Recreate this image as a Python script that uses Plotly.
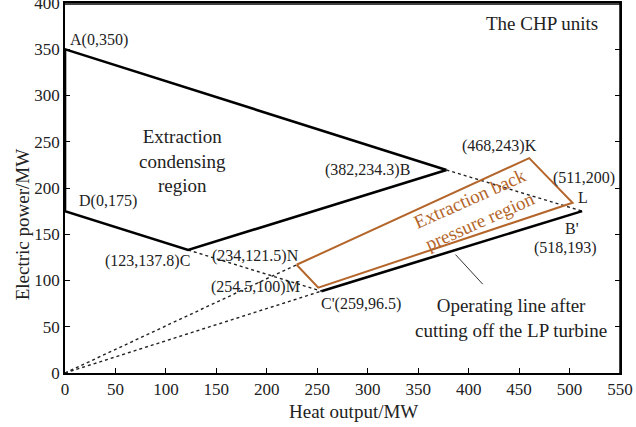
import plotly.graph_objects as go

# Operating region vertices (as drawn)
region_x = [378, 0, 0, 122, 378]          # B, A, D, C, B
region_y = [219.5, 350, 175, 133, 219.5]
cut_x = [254, 512.5]                        # C', B'
cut_y = [88.5, 175]
dot_segments = [
    ([122, 254], [133, 88.5]),              # C -> C'
    ([378, 512.5], [219.5, 175]),           # B -> B'
    ([0, 229.5], [0, 117]),                 # O -> N
    ([0, 254], [0, 88.5]),                  # O -> C'
]
back_x = [229.5, 460, 503, 251, 229.5]     # N, K, L, M, N
back_y = [117, 232.3, 184, 92.3, 117]
pointer_x = [387, 414]
pointer_y = [128, 96]

labels = [
    ("A(0,350)", 33.4, 359.7),
    ("D(0,175)", 42.6, 185.7),
    ("(382,234.3)B", 299.6, 219),
    ("(468,243)K", 430.5, 244.9),
    ("(511,200)", 514, 210.8),
    ("L", 513, 190),
    ("B'", 502.5, 156.3),
    ("(518,193)", 496, 134.8),
    ("C'(259,96.5)", 293, 74.5),
    ("(123,137.8)C", 81.8, 121),
    ("(234,121.5)N", 188.3, 126.5),
    ("(254.5,100)M", 188.3, 93.1),
]
big_labels = [
    ("The CHP units", 472.4, 377.6),
    ("Extraction<br>condensing<br>region", 116.9, 228.7),
    ("Operating line after<br>cutting off the LP turbine", 442, 60),
]

FONT = "Liberation Serif"
BROWN = "#b4652a"

fig = go.Figure()
for sx, sy in dot_segments:
    fig.add_trace(go.Scatter(x=sx, y=sy, mode="lines",
                             line=dict(color="#222222", width=1.4, dash="dot")))
fig.add_trace(go.Scatter(x=region_x, y=region_y, mode="lines",
                         line=dict(color="black", width=2.6)))
fig.add_trace(go.Scatter(x=cut_x, y=cut_y, mode="lines",
                         line=dict(color="black", width=2.6)))
fig.add_trace(go.Scatter(x=back_x, y=back_y, mode="lines",
                         line=dict(color=BROWN, width=2)))
fig.add_trace(go.Scatter(x=pointer_x, y=pointer_y, mode="lines",
                         line=dict(color="#333333", width=1)))

for t, x, y in labels:
    fig.add_annotation(x=x, y=y, text=t, showarrow=False,
                       font=dict(family=FONT, size=16, color="#222222"))
for t, x, y in big_labels:
    fig.add_annotation(x=x, y=y, text=t, showarrow=False,
                       font=dict(family=FONT, size=19, color="#222222"))
fig.add_annotation(x=406.3, y=175.8, text="Extraction back<br>pressure region",
                   showarrow=False, textangle=-24,
                   font=dict(family=FONT, size=19, color=BROWN))

# axis titles
fig.add_annotation(xref="paper", yref="paper", x=0.52, y=-0.104,
                   text="Heat output/MW", showarrow=False,
                   xanchor="center", yanchor="middle",
                   font=dict(family=FONT, size=19, color="#222222"))
fig.add_annotation(xref="paper", yref="paper", x=-0.077, y=0.40,
                   text="Electric power/MW", showarrow=False, textangle=-90,
                   xanchor="center", yanchor="middle",
                   font=dict(family=FONT, size=19, color="#222222"))

# plot frame (top and right edges)
fig.add_shape(type="line", xref="paper", yref="paper", x0=0, y0=0.997, x1=1, y1=0.997,
              line=dict(color="black", width=1.5), layer="above")
fig.add_shape(type="line", xref="paper", yref="paper", x0=1, y0=0, x1=1, y1=1,
              line=dict(color="black", width=1.5), layer="above")

axis_common = dict(showgrid=False, zeroline=False, showline=True,
                   linecolor="black", linewidth=1.5, ticks="inside",
                   ticklen=5, tickwidth=1.3, tickcolor="black",
                   ticklabeloverflow="allow", automargin=False,
                   tickfont=dict(family=FONT, size=17, color="#222222"))
fig.update_xaxes(range=[0, 550], dtick=50, mirror=True, **axis_common)
fig.update_yaxes(range=[0, 400], dtick=50, mirror="ticks", **axis_common)

fig.update_layout(width=636, height=427, showlegend=False,
                  plot_bgcolor="white", paper_bgcolor="white",
                  margin=dict(l=65, r=16, t=3, b=54))
fig.write_html("out.html", config={"displayModeBar": False},
               post_script=("document.body.style.margin='0';"
                            "document.body.style.overflow='hidden';"
                            "document.documentElement.style.overflow='hidden';"))
